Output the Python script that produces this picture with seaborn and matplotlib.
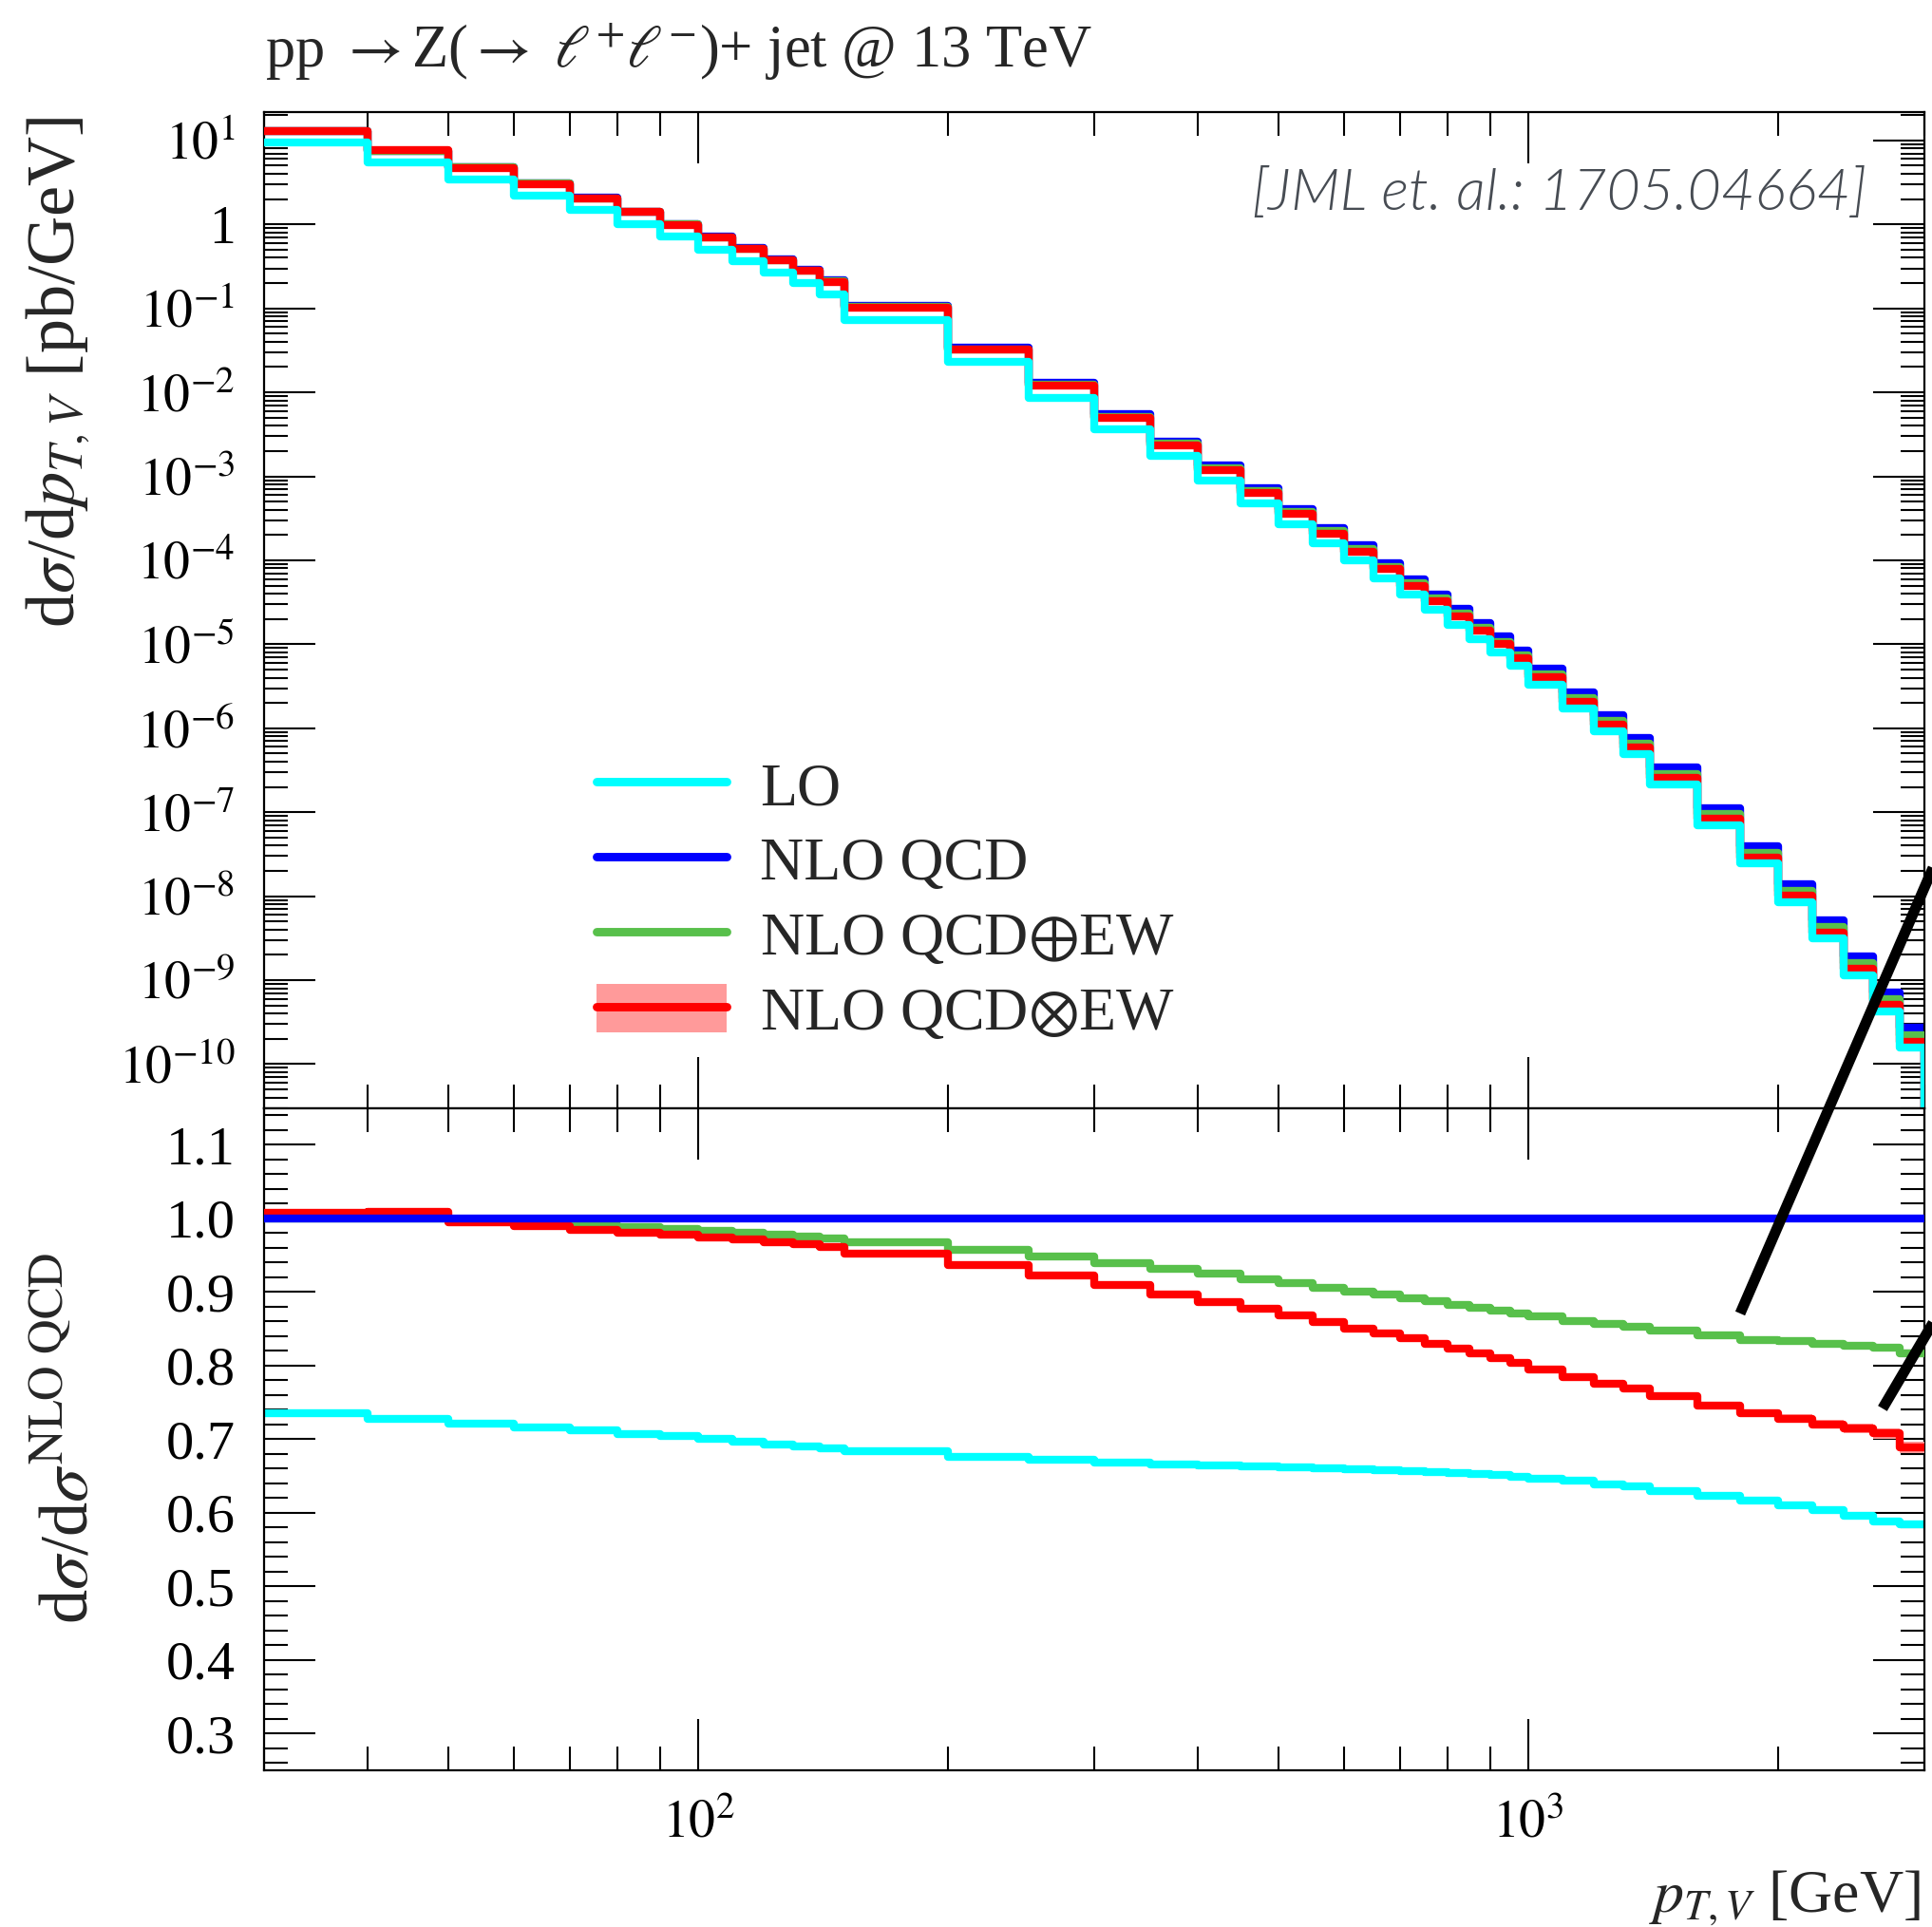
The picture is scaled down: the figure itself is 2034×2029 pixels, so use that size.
import numpy as np
import pandas as pd
import matplotlib
matplotlib.use("Agg")
import matplotlib.pyplot as plt
import seaborn as sns
from matplotlib.lines import Line2D
from matplotlib.patches import Patch
from matplotlib.ticker import (LogLocator, MultipleLocator, FixedLocator, FuncFormatter,
                               NullFormatter, FormatStrFormatter)

# bin edges in p_T,V [GeV]
edges = [30, 40, 50, 60, 70, 80, 90, 100, 110, 120, 130, 140, 150, 200, 250, 300,
         350, 400, 450, 500, 550, 600, 650, 700, 750, 800, 850, 900, 950, 1000,
         1100, 1200, 1300, 1400, 1600, 1800, 2000, 2200, 2400, 2600, 2800, 3000]

# NLO QCD dsigma/dpT [pb/GeV], one value per bin
nlo_qcd = [13.0, 7.57, 4.77, 3.07, 2.07, 1.43, 1.01,
           0.719, 0.523, 0.387, 0.289, 0.215,
           0.107,
           0.0342, 0.0129, 5.49e-3, 2.61e-3, 1.34e-3, 7.26e-4, 4.10e-4, 2.44e-4,
           1.50e-4, 9.3e-5, 5.96e-5, 3.93e-5, 2.62e-5, 1.78e-5, 1.23e-5, 8.5e-6,
           5.1e-6, 2.64e-6, 1.42e-6, 7.69e-7,
           3.38e-7, 1.12e-7, 3.94e-8, 1.40e-8, 5.15e-9, 1.93e-9, 7.18e-10, 2.69e-10]

# ratios to NLO QCD (lower panel)
ratio_lo = [0.735, 0.727, 0.7215, 0.716, 0.712, 0.707, 0.704,
            0.700, 0.696, 0.693, 0.690, 0.688,
            0.683,
            0.676, 0.6715, 0.668, 0.666, 0.6646, 0.663, 0.662, 0.6605,
            0.659, 0.658, 0.6565, 0.655, 0.654, 0.6525, 0.651, 0.649,
            0.646, 0.643, 0.639, 0.636,
            0.630, 0.623, 0.617, 0.610, 0.603, 0.5955, 0.588, 0.584]

ratio_add = [1.0, 1.0, 0.998, 0.995, 0.991, 0.988, 0.9856,
             0.983, 0.980, 0.978, 0.975, 0.973,
             0.968,
             0.957, 0.9476, 0.9396, 0.931, 0.9246, 0.9177, 0.912, 0.906,
             0.900, 0.896, 0.891, 0.887, 0.882, 0.879, 0.874, 0.871,
             0.867, 0.860, 0.856, 0.853,
             0.847, 0.841, 0.835, 0.833, 0.830, 0.827, 0.8245, 0.817]

ratio_mult = [1.007, 1.0086, 0.994, 0.989, 0.9845, 0.981, 0.9776,
              0.974, 0.971, 0.968, 0.965, 0.961,
              0.952,
              0.937, 0.9223, 0.909, 0.8964, 0.886, 0.877, 0.8677, 0.8585,
              0.8504, 0.844, 0.837, 0.830, 0.8234, 0.817, 0.8096, 0.803,
              0.794, 0.784, 0.7756, 0.769,
              0.758, 0.746, 0.735, 0.728, 0.720, 0.715, 0.708, 0.689]

# half width of the NLO QCDxEW band (in ratio units)
mult_unc = [0.0005, 0.0005, 0.0005, 0.0005, 0.0005, 0.0005, 0.0005,
            0.0005, 0.0005, 0.0005, 0.0005, 0.0005,
            0.0006,
            0.0007, 0.0008, 0.0008, 0.0009, 0.001, 0.001, 0.0011, 0.0012,
            0.0012, 0.0013, 0.0014, 0.0015, 0.0016, 0.0017, 0.0018, 0.0019,
            0.002, 0.0025, 0.003, 0.003,
            0.004, 0.0045, 0.005, 0.0055, 0.006, 0.0065, 0.007, 0.008]

# tick positions
y_decades = [1e-10, 1e-9, 1e-8, 1e-7, 1e-6, 1e-5, 1e-4, 1e-3, 1e-2, 1e-1, 1, 10]
x_decades = [100, 1000]
ratio_ticks = [0.3, 0.4, 0.5, 0.6, 0.7, 0.8, 0.9, 1.0, 1.1]

labels = ["LO", "NLO QCD", r"NLO QCD$\oplus$EW", r"NLO QCD$\otimes$EW"]
colors = {"LO": "#00ffff", "NLO QCD": "#0000ff", "add": "#58c04b", "mult": "#ff0000"}
band_color = "#ff9a9a"

# stray black strokes seen in the original picture (figure fractions)
stroke_a = [(0.9007, 0.3184), (1.03, 0.618)]
stroke_b = [(0.9744, 0.2691), (1.03, 0.3637)]

sns.set_theme(style="ticks")
plt.rcParams.update({
    "mathtext.fontset": "stix",
    "axes.linewidth": 0.8,
    "axes.edgecolor": "black",
    "xtick.color": "black",
    "ytick.color": "black",
})
plt.rcParams["font.family"] = ["Liberation Serif", "DejaVu Serif"]


def step_frame(values, close=None):
    x = list(edges)
    y = list(values) + [values[-1]]
    if close is not None:
        x = x + [edges[-1]]
        y = y + [close]
    return pd.DataFrame({"pt": x, "val": y})


def step_line(ax, values, color, z, close=None, lw=3.0):
    sns.lineplot(data=step_frame(values, close), x="pt", y="val", color=color,
                 lw=lw, drawstyle="steps-post", estimator=None, sort=False,
                 ax=ax, legend=False, zorder=z)


def band(ax, lo, hi, z):
    lo = list(lo) + [lo[-1]]
    hi = list(hi) + [hi[-1]]
    ax.fill_between(edges, lo, hi, step="post", color=band_color, lw=0, zorder=z)


nlo = np.array(nlo_qcd)
lo_xs = nlo * np.array(ratio_lo)
add_xs = nlo * np.array(ratio_add)
mult_xs = nlo * np.array(ratio_mult)
r_mult = np.array(ratio_mult)
r_unc = np.array(mult_unc)

fig = plt.figure(figsize=(10.17, 10.145), dpi=200)
ax = fig.add_axes([0.1367, 0.42504, 0.8594, 0.5170])
rax = fig.add_axes([0.1367, 0.08132, 0.8594, 0.34372], sharex=ax)
for a in (ax, rax):
    a.set_xscale("log")
ax.set_yscale("log")
ax.set_xlim(30, 3000)
ax.set_ylim(3e-11, 22)
rax.set_ylim(0.25, 1.15)

floor = 1e-14
# upper panel
band(ax, mult_xs * (1 - r_unc), mult_xs * (1 + r_unc), 1)
step_line(ax, nlo, colors["NLO QCD"], 2, close=floor)
step_line(ax, add_xs, colors["add"], 3, close=floor)
step_line(ax, mult_xs, colors["mult"], 4, close=floor)
step_line(ax, lo_xs, colors["LO"], 5, close=floor)

# ratio panel
step_line(rax, ratio_lo, colors["LO"], 2)
step_line(rax, ratio_add, colors["add"], 3)
band(rax, r_mult - r_unc, r_mult + r_unc, 4)
step_line(rax, ratio_mult, colors["mult"], 5)
step_line(rax, [1.0] * len(nlo_qcd), colors["NLO QCD"], 6)


def log_label(v, pos):
    e = int(round(np.log10(v)))
    if e == 0:
        return "1"
    return r"$10^{%d}$" % e


for a in (ax, rax):
    a.set_xlabel("")
    a.set_ylabel("")
    a.xaxis.set_major_locator(FixedLocator(x_decades))
    a.xaxis.set_minor_locator(LogLocator(base=10, subs=np.arange(2, 10), numticks=20))
    a.tick_params(which="both", direction="in", top=True, right=True,
                  width=0.75, labelsize=20, pad=11)
    a.tick_params(which="major", length=19.5)
    a.tick_params(which="minor", length=9)

ax.yaxis.set_major_locator(FixedLocator(y_decades))
ax.yaxis.set_minor_locator(LogLocator(base=10, subs=np.arange(2, 10), numticks=30))
ax.yaxis.set_major_formatter(FuncFormatter(log_label))
ax.yaxis.set_minor_formatter(NullFormatter())
ax.tick_params(labelbottom=False)

rax.xaxis.set_major_formatter(FuncFormatter(log_label))
rax.xaxis.set_minor_formatter(NullFormatter())
rax.yaxis.set_major_locator(FixedLocator(ratio_ticks))
rax.yaxis.set_minor_locator(MultipleLocator(0.02))
rax.yaxis.set_major_formatter(FormatStrFormatter("%.1f"))
rax.tick_params(axis="y", labelsize=21)

# texts
fig.text(0.1372, 0.965, r"pp $\rightarrow$Z($\rightarrow$ $\ell^{+}\ell^{-}$)+ jet @ 13 TeV",
         fontsize=22.5, ha="left", va="baseline")
fig.text(0.030, 0.807, r"d$\sigma$/d$p_{T,V}$ [pb/GeV]", rotation=90,
         fontsize=26, ha="center", va="center")
fig.text(0.036, 0.2538, r"d$\sigma$/d$\sigma^{\mathrm{NLO\ QCD}}$", rotation=90,
         fontsize=26, ha="center", va="center")
fig.text(0.994, 0.008, r"$p_{T,V}$ [GeV]", fontsize=23, ha="right", va="baseline")
ax.text(0.965, 0.917, "[JML et. al.: 1705.04664]", transform=ax.transAxes,
        ha="right", va="center", fontsize=22, color="#474c53",
        fontstyle="italic", fontweight=300, family=["Lato", "DejaVu Sans"])

handles = [
    Line2D([], [], color=colors["LO"], lw=3.2),
    Line2D([], [], color=colors["NLO QCD"], lw=3.2),
    Line2D([], [], color=colors["add"], lw=3.2),
    (Patch(facecolor=band_color, edgecolor="none"), Line2D([], [], color=colors["mult"], lw=3.2)),
]
ax.legend(handles, labels, loc="upper left", bbox_to_anchor=(0.200, 0.35),
          frameon=False, fontsize=23, handlelength=2.15, handleheight=0.85,
          handletextpad=0.55, labelspacing=0.27, borderpad=0, borderaxespad=0)

for s in (stroke_a, stroke_b):
    fig.add_artist(Line2D([s[0][0], s[1][0]], [s[0][1], s[1][1]],
                          transform=fig.transFigure, color="black", lw=4,
                          solid_capstyle="butt", zorder=10))

fig.savefig("out.png", dpi=200)
